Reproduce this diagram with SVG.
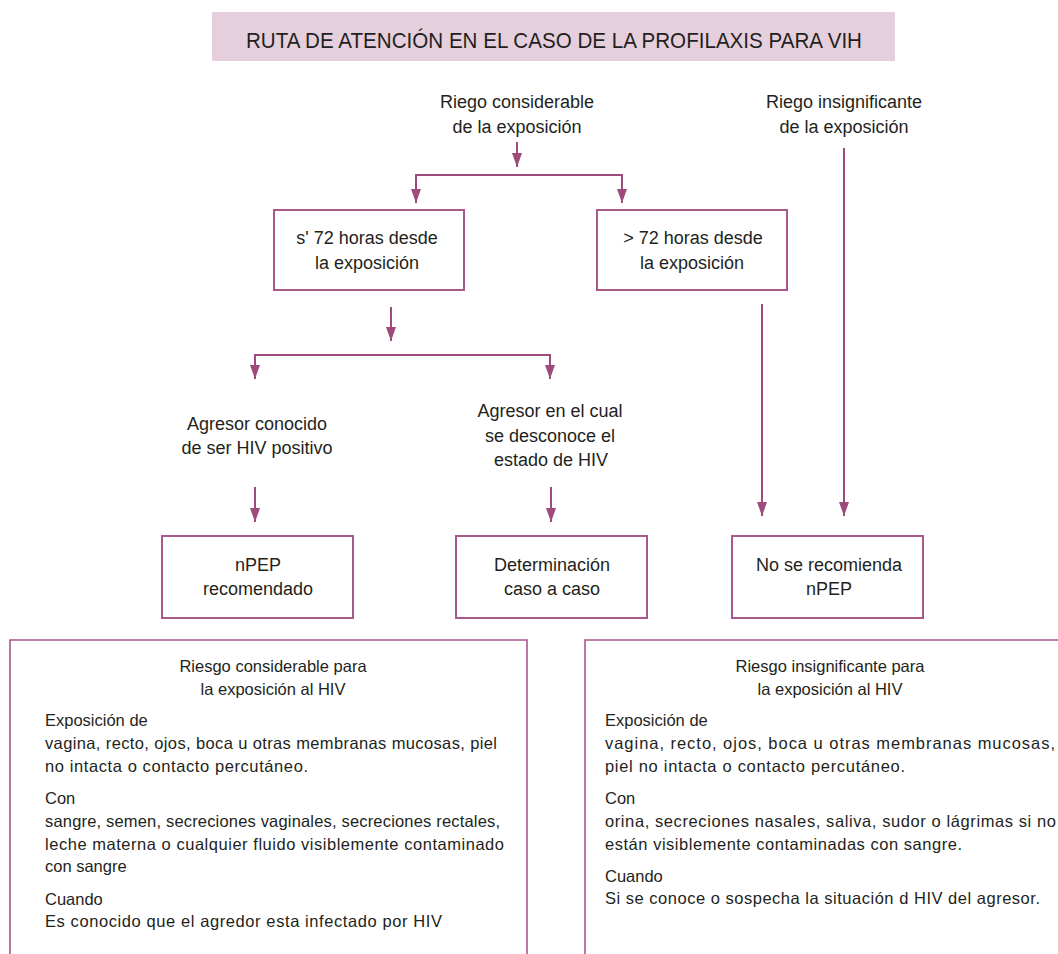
<svg xmlns="http://www.w3.org/2000/svg" width="1058" height="954" viewBox="0 0 1058 954">
<style>
text{font-family:"Liberation Sans","DejaVu Sans",sans-serif;fill:#231f20}
.f{font-size:18px;text-anchor:middle}
.p{font-size:16.5px}
.pc{font-size:16.5px;text-anchor:middle}
.box{fill:#fff;stroke:#a8588a;stroke-width:2}
.con{fill:none;stroke:#9e4a7c;stroke-width:2}
.pan{fill:none;stroke:#a8588a;stroke-width:1.6}
</style>
<defs>
<marker id="ah" viewBox="0 0 14 10" refX="14" refY="5" markerWidth="14" markerHeight="10" markerUnits="userSpaceOnUse" orient="auto-start-reverse">
<path d="M0,0 L14,5 L0,10 z" fill="#9e4a7c"/>
</marker>
</defs>
<rect width="1058" height="954" fill="#fff"/>
<g id="title">
<rect x="212" y="12" width="683" height="49" fill="#e6cfdd"/>
<text x="554" y="48" font-size="22" fill="#2a2628" text-anchor="middle" textLength="616" lengthAdjust="spacingAndGlyphs">RUTA DE ATENCIÓN EN EL CASO DE LA PROFILAXIS PARA VIH</text>
</g>
<g id="connectors">
<path class="con" d="M517,142 V167" marker-end="url(#ah)"/>
<path class="con" d="M416,203 V175 H622 V203" marker-start="url(#ah)" marker-end="url(#ah)"/>
<path class="con" d="M391,307 V341" marker-end="url(#ah)"/>
<path class="con" d="M255,379 V355 H550 V379" marker-start="url(#ah)" marker-end="url(#ah)"/>
<path class="con" d="M255,487 V522" marker-end="url(#ah)"/>
<path class="con" d="M551,487 V522" marker-end="url(#ah)"/>
<path class="con" d="M762,304 V516" marker-end="url(#ah)"/>
<path class="con" d="M844,148 V516" marker-end="url(#ah)"/>
</g>
<g id="n-riesgo-considerable">
<text class="f" x="517" y="108">Riego considerable</text>
<text class="f" x="517" y="133">de la exposición</text>
</g>
<g id="n-riesgo-insignificante">
<text class="f" x="844" y="108">Riego insignificante</text>
<text class="f" x="844" y="133">de la exposición</text>
</g>
<g id="n-menos72">
<rect class="box" x="274" y="210" width="190" height="80"/>
<text class="f" x="367" y="244">s' 72 horas desde</text>
<text class="f" x="367" y="269">la exposición</text>
</g>
<g id="n-mas72">
<rect class="box" x="597" y="210" width="190" height="80"/>
<text class="f" x="693" y="244">&gt; 72 horas desde</text>
<text class="f" x="692" y="269">la exposición</text>
</g>
<g id="n-agresor-conocido">
<text class="f" x="257" y="430">Agresor conocido</text>
<text class="f" x="257" y="454">de ser HIV positivo</text>
</g>
<g id="n-agresor-desconocido">
<text class="f" x="550" y="417">Agresor en el cual</text>
<text class="f" x="550" y="442">se desconoce el</text>
<text class="f" x="551" y="466">estado de HIV</text>
</g>
<g id="n-npep">
<rect class="box" x="162" y="536" width="191" height="82"/>
<text class="f" x="258" y="571">nPEP</text>
<text class="f" x="258" y="595">recomendado</text>
</g>
<g id="n-determinacion">
<rect class="box" x="456" y="536" width="191" height="82"/>
<text class="f" x="552" y="571">Determinación</text>
<text class="f" x="552" y="595">caso a caso</text>
</g>
<g id="n-no-npep">
<rect class="box" x="732" y="536" width="191" height="82"/>
<text class="f" x="829" y="571">No se recomienda</text>
<text class="f" x="829" y="595">nPEP</text>
</g>
<g id="panel-considerable">
<path class="pan" d="M10,954 V640 H527 V954"/>
<text class="pc" x="273" y="672">Riesgo considerable para</text>
<text class="pc" x="273" y="695">la exposición al HIV</text>
<text class="p" x="45" y="726">Exposición de</text>
<text class="p" x="45" y="749" textLength="452">vagina, recto, ojos, boca u otras membranas mucosas, piel</text>
<text class="p" x="45" y="772" textLength="263">no intacta o contacto percutáneo.</text>
<text class="p" x="45" y="804">Con</text>
<text class="p" x="45" y="827" textLength="455">sangre, semen, secreciones vaginales, secreciones rectales,</text>
<text class="p" x="45" y="850" textLength="459">leche materna o cualquier fluido visiblemente contaminado</text>
<text class="p" x="45" y="872">con sangre</text>
<text class="p" x="45" y="905">Cuando</text>
<text class="p" x="45" y="927" textLength="397">Es conocido que el agredor esta infectado por HIV</text>
</g>
<g id="panel-insignificante">
<path class="pan" d="M585,954 V640 H1058"/>
<text class="pc" x="830" y="672">Riesgo insignificante para</text>
<text class="pc" x="830" y="695">la exposición al HIV</text>
<text class="p" x="605" y="726">Exposición de</text>
<text class="p" x="605" y="749" textLength="450">vagina, recto, ojos, boca u otras membranas mucosas,</text>
<text class="p" x="605" y="772" textLength="300">piel no intacta o contacto percutáneo.</text>
<text class="p" x="605" y="804">Con</text>
<text class="p" x="605" y="827" textLength="451">orina, secreciones nasales, saliva, sudor o lágrimas si no</text>
<text class="p" x="605" y="850" textLength="357">están visiblemente contaminadas con sangre.</text>
<text class="p" x="605" y="882">Cuando</text>
<text class="p" x="605" y="904" textLength="435">Si se conoce o sospecha la situación d HIV del agresor.</text>
</g>
</svg>
